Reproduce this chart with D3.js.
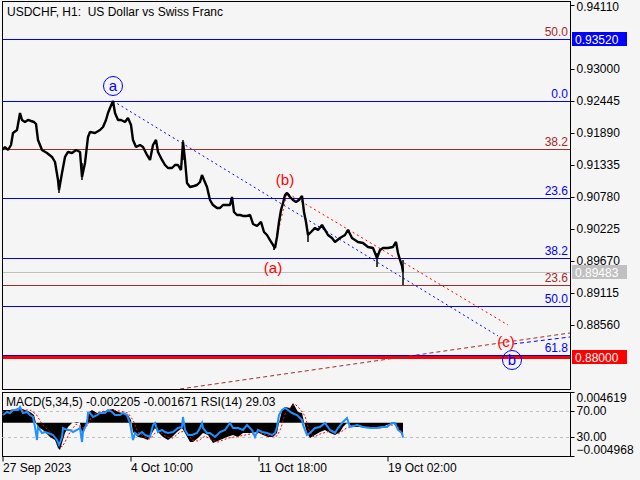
<!DOCTYPE html>
<html><head><meta charset="utf-8">
<script src="https://cdn.jsdelivr.net/npm/d3@7"></script>
<style>
html,body{margin:0;padding:0;background:#F5F5F5;}
svg{display:block;font-family:"Liberation Sans",Arial,sans-serif;}
</style></head><body><svg id="c" width="640" height="480"></svg>
<script>
// ---------------- DATA ----------------
const chartTitle = "USDCHF, H1:  US Dollar vs Swiss Franc";
const indicatorTitle = "MACD(5,34,5) -0.002205 -0.001671 RSI(14) 29.03";
const priceBars = [0,3,6,9,11,15,18,20,23,26,29,32,34,36,40,45,50,53,56,57,60,63,66,70,74,78,80,83,86,88,93,98,101,104,106,108,111,113,116,119,123,126,129,131,134,138,141,145,148,151,154,156,160,163,166,170,173,176,179,181,183,185,188,192,195,198,200,202,205,208,211,215,218,221,225,228,230,232,235,238,241,245,248,251,255,259,262,265,268,271,273,275,277,279,281,283,285,288,291,294,297,300,302,304,306,309,313,316,320,323,326,330,333,338,343,346,350,353,356,361,366,371,375,378,381,386,391,394,396,398,400,401];
const closePrices = [0.91595,0.91647,0.91595,0.91682,0.91890,0.91942,0.92237,0.92116,0.92081,0.92116,0.92098,0.92081,0.92046,0.91769,0.91595,0.91543,0.91474,0.91387,0.91075,0.90902,0.91196,0.91474,0.91561,0.91543,0.91595,0.91561,0.91127,0.91370,0.91821,0.91907,0.91890,0.91942,0.91994,0.92116,0.92237,0.92324,0.92445,0.92237,0.92116,0.92116,0.92081,0.92150,0.92029,0.91769,0.91647,0.91682,0.91647,0.91509,0.91422,0.91682,0.91769,0.91561,0.91422,0.91335,0.91283,0.91283,0.91335,0.91335,0.91248,0.91734,0.91422,0.91023,0.90954,0.90971,0.90988,0.91040,0.91162,0.91075,0.90954,0.90728,0.90641,0.90589,0.90589,0.90641,0.90641,0.90641,0.90780,0.90520,0.90468,0.90468,0.90451,0.90451,0.90468,0.90312,0.90277,0.90347,0.90173,0.90121,0.90034,0.89948,0.89896,0.90086,0.90347,0.90555,0.90676,0.90815,0.90850,0.90780,0.90728,0.90693,0.90728,0.90797,0.90520,0.90347,0.90121,0.90173,0.90243,0.90208,0.90295,0.90208,0.90121,0.90069,0.90000,0.90069,0.90121,0.90208,0.90069,0.90034,0.90000,0.89982,0.89913,0.89896,0.89722,0.89861,0.89896,0.89896,0.89913,0.90000,0.89809,0.89688,0.89584,0.89483];
const spikeBars = [57,80,181,272,306,375,401];
const spikeHigh = [0.91075,0.91370,0.91769,0.89948,0.90173,0.89809,0.89688];
const spikeLow  = [0.90850,0.91075,0.91422,0.89861,0.90000,0.89566,0.89254];

const priceTicks = [0.94110,0.93000,0.92445,0.91890,0.91335,0.90780,0.90225,0.89670,0.89115,0.88560];
const timeTickBars = [0,128,256,385];
const timeLabels = ["27 Sep 2023","4 Oct 10:00","11 Oct 18:00","19 Oct 02:00"];

const fibBlueLevels = ["0.0","23.6","38.2","50.0","61.8"];
const fibBluePrices = [0.92445,0.90760,0.89720,0.88890,0.88040];
const fibRedLevels = ["50.0","38.2","23.6"];
const fibRedPrices = [0.93512,0.91612,0.89254];
const targetPrice = 0.93520;
const supportPrice = 0.88000;
const lastPrice = 0.89483;

const waveText   = ["a","(b)","(a)","(c)","b"];
const waveBars   = [111,283,271,504,510];
const wavePrices = [0.92705,0.91075,0.89549,0.88266,0.87953];
const waveCircled = [true,false,false,false,true];
const waveDegree = ["minor","minute","minute","minute","minor"];

// trend / projection lines: [bar, price] pairs
const bluePathBars = [111,496];   const bluePathPrices = [0.92445,0.88370];
const blueExtBars = [511,568];    const blueExtPrices = [0.88231,0.88352];
const redPathBars = [272,285,506]; const redPathPrices = [0.89861,0.90850,0.88560];
const trendBars = [178,568];      const trendPrices = [0.87450,0.88422];

const macdBars = [0,8,18,28,32,34,36,41,48,53,56,58,60,63,66,70,75,78,80,83,85,87,90,95,101,106,111,116,121,126,129,131,136,141,146,150,153,156,161,166,170,175,180,183,188,191,196,201,206,211,218,225,231,236,241,248,255,261,266,271,275,277,280,283,288,291,296,300,302,305,308,313,318,323,328,333,338,341,345,351,358,365,371,378,385,391,396,400,401];
const macdValues = [0.00192,0.00192,0.00222,0.00162,0.00117,-0.00003,-0.00063,-0.00108,-0.00213,-0.00258,-0.00378,-0.00407,-0.00303,-0.00153,-0.00063,-0.00003,0.00012,-0.00003,-0.00153,-0.00063,0.00042,0.00162,0.00192,0.00147,0.00162,0.00192,0.00207,0.00162,0.00147,0.00117,0.00042,-0.00138,-0.00213,-0.00228,-0.00258,-0.00153,-0.00078,-0.00138,-0.00213,-0.00258,-0.00213,-0.00138,-0.00078,-0.00153,-0.00288,-0.00288,-0.00228,-0.00153,-0.00183,-0.00303,-0.00258,-0.00213,-0.00183,-0.00213,-0.00153,-0.00153,-0.00138,-0.00183,-0.00213,-0.00213,-0.00153,-0.00003,0.00192,0.00237,0.00222,0.00297,0.00162,0.00147,0.00012,-0.00153,-0.00228,-0.00183,-0.00138,-0.00108,-0.00153,-0.00183,-0.00138,-0.00063,-0.00003,-0.00063,-0.00063,-0.00078,-0.00063,-0.00078,-0.00033,-0.00003,-0.00078,-0.00183,-0.002205];
const signalBars = [0,13,28,34,40,48,55,60,64,68,74,81,86,90,98,108,118,126,131,136,143,148,153,158,165,171,178,184,190,196,203,210,216,226,238,248,258,268,275,279,283,288,293,298,303,307,312,318,328,336,343,350,363,378,388,395,401];
const signalValues = [0.00162,0.00192,0.00192,0.00132,-0.00018,-0.00138,-0.00258,-0.00363,-0.00258,-0.00138,-0.00018,-0.00078,-0.00033,0.00117,0.00162,0.00192,0.00177,0.00147,0.00042,-0.00138,-0.00213,-0.00243,-0.00153,-0.00138,-0.00213,-0.00228,-0.00138,-0.00123,-0.00258,-0.00273,-0.00198,-0.00258,-0.00288,-0.00228,-0.00198,-0.00168,-0.00153,-0.00198,-0.00198,-0.00078,0.00132,0.00222,0.00282,0.00207,0.00102,-0.00108,-0.00213,-0.00168,-0.00123,-0.00168,-0.00093,-0.00033,-0.00063,-0.00078,-0.00033,-0.00033,-0.001671];
const rsiBars = [1,5,8,11,16,18,21,25,28,31,33,35,36,40,43,46,51,55,57,60,61,65,68,71,75,78,80,81,85,86,88,91,95,98,103,106,110,113,118,121,125,128,131,133,136,140,143,148,151,153,156,160,163,166,171,176,180,181,183,186,190,195,198,200,201,205,208,213,218,223,228,231,236,241,245,250,253,256,260,265,270,273,275,277,280,283,286,290,295,300,301,305,308,313,318,323,328,333,336,341,345,348,355,361,368,375,380,385,390,393,396,400,401];
const rsiValues = [63.8,68.5,66.9,71.5,71.5,76.2,66.9,68.5,63.8,60.8,45.4,25.4,45.4,36.2,37.7,36.2,33.1,25.4,17.7,30.0,43.8,40.8,40.8,37.7,40.8,43.8,22.3,37.7,51.5,66.9,66.9,60.8,63.8,66.9,66.9,71.5,68.5,63.8,63.8,66.9,63.8,51.5,25.4,36.2,33.1,37.7,33.1,30.0,48.5,51.5,37.7,40.8,37.7,36.2,37.7,43.8,45.4,60.8,40.8,33.1,33.1,36.2,43.8,51.5,43.8,36.2,36.2,30.0,37.7,40.8,51.5,43.8,43.8,40.8,48.5,40.8,30.0,40.8,37.7,36.2,33.1,36.2,45.4,63.8,71.5,74.6,71.5,66.9,63.8,56.2,48.5,33.1,36.2,43.8,45.4,51.5,40.8,36.2,43.8,53.1,59.2,45.4,48.5,45.4,43.8,43.8,45.4,45.4,51.5,51.5,40.8,36.2,29.03];
const macdMax = 0.004619, macdMin = -0.004968;
const rsiLevels = [70,30];

// ---------------- DRAW ----------------
const svg = d3.select("#c");
const L = 2, R = 570, T = 1, B = 389, MT = 392, MB = 456;
const BLUE = "#0000FF", BROWN = "#A52A2A", RED = "#FF0000", GREY = "#C0C0C0";
const crisp = v => Math.round(v) + 0.5;

const x = d3.scaleLinear().domain([0, 385]).range([2, 387]);
const y = d3.scaleLinear().domain([0.88560, 0.94110]).range([325, 5]);
const my = d3.scaleLinear().domain([macdMin, macdMax]).range([MB, MT]);
const ry = d3.scaleLinear().domain([0, 100]).range([456.5, 391.5]);

svg.append("rect").attr("width",640).attr("height",480).attr("fill","#F5F5F5");

const defs = svg.append("defs");
defs.append("clipPath").attr("id","mainClip").append("rect").attr("x",L).attr("y",T).attr("width",R-L).attr("height",B-T);
defs.append("clipPath").attr("id","subClip").append("rect").attr("x",L).attr("y",MT).attr("width",R-L).attr("height",MB-MT);

const main = svg.append("g").attr("clip-path","url(#mainClip)");

function hline(g, price, color, w) {
  const yy = crisp(y(price));
  g.append("line").attr("x1",L).attr("x2",R).attr("y1",yy).attr("y2",yy)
    .attr("stroke",color).attr("stroke-width",w||1).attr("shape-rendering","crispEdges");
}
// fib lines
fibRedPrices.forEach(p => hline(main, p, BROWN));
fibBluePrices.forEach(p => hline(main, p, BLUE));
hline(main, targetPrice, BLUE);
hline(main, lastPrice, GREY);
{
  const yy = y(supportPrice);
  main.append("rect").attr("x",L).attr("width",R-L).attr("y",Math.round(yy)-1).attr("height",3).attr("fill",RED);
}

// fib labels
fibBlueLevels.forEach((t,i) => main.append("text").attr("x",568).attr("y",Math.round(y(fibBluePrices[i]))-3)
  .attr("text-anchor","end").attr("font-size",12).attr("fill",BLUE).text(t));
fibRedLevels.forEach((t,i) => main.append("text").attr("x",568).attr("y",Math.round(y(fibRedPrices[i]))-3)
  .attr("text-anchor","end").attr("font-size",12).attr("fill",BROWN).text(t));

// projection lines
const pline = d3.line().x(d => x(d[0])).y(d => y(d[1]));
main.append("path").attr("d", pline(trendBars.map((b,i)=>[b,trendPrices[i]])))
  .attr("fill","none").attr("stroke",BROWN).attr("stroke-width",1).attr("stroke-dasharray","4,3");
main.append("path").attr("d", pline(bluePathBars.map((b,i)=>[b,bluePathPrices[i]])))
  .attr("fill","none").attr("stroke",BLUE).attr("stroke-width",1).attr("stroke-dasharray","2,3");
main.append("path").attr("d", pline(blueExtBars.map((b,i)=>[b,blueExtPrices[i]])))
  .attr("fill","none").attr("stroke",BLUE).attr("stroke-width",1).attr("stroke-dasharray","4,3");
main.append("path").attr("d", pline(redPathBars.map((b,i)=>[b,redPathPrices[i]])))
  .attr("fill","none").attr("stroke",RED).attr("stroke-width",1).attr("stroke-dasharray","2,3");

// price
main.append("path").attr("d", pline(priceBars.map((b,i)=>[b,closePrices[i]])))
  .attr("fill","none").attr("stroke","#000").attr("stroke-width",2.4).attr("stroke-linejoin","bevel");
spikeBars.forEach((b,i) => main.append("line").attr("x1",x(b)).attr("x2",x(b))
  .attr("y1",y(spikeHigh[i])).attr("y2",y(spikeLow[i])).attr("stroke","#000").attr("stroke-width",1.5));

// wave labels
waveText.forEach((t,i) => {
  const cx = x(waveBars[i]), cy = y(wavePrices[i]);
  const col = waveDegree[i] === "minor" ? BLUE : RED;
  if (waveCircled[i]) {
    svg.append("circle").attr("cx",cx).attr("cy",cy).attr("r",9.5).attr("fill","none").attr("stroke",col).attr("stroke-width",1);
  }
  svg.append("text").attr("x",cx).attr("y",cy+5).attr("text-anchor","middle").attr("font-size",15)
    .attr("fill",col).text(t);
});

// frames
svg.append("rect").attr("x",L+0.5).attr("y",T+0.5).attr("width",R-L).attr("height",B-T).attr("fill","none").attr("stroke","#000");
svg.append("rect").attr("x",L+0.5).attr("y",MT+0.5).attr("width",R-L).attr("height",MB-MT).attr("fill","none").attr("stroke","#000");

// price axis
const ya = svg.append("g").attr("transform",`translate(${R+0.5},0)`)
  .call(d3.axisRight(y).tickValues(priceTicks).tickFormat(d3.format(".5f")).tickSize(4).tickPadding(2));
ya.select(".domain").remove();
ya.selectAll("text").attr("font-size",12).attr("font-family","Liberation Sans, Arial, sans-serif").attr("fill","#000")
  .attr("dy", d => d === priceTicks[0] ? "0.45em" : "0.32em");
ya.selectAll("line").attr("stroke","#000");

function tag(price, bg) {
  const yy = Math.round(y(price));
  svg.append("rect").attr("x",572).attr("y",yy-7).attr("width",55).attr("height",14).attr("fill",bg);
  svg.append("text").attr("x",575).attr("y",yy+4.5).attr("font-size",12).attr("fill","#fff").text(d3.format(".5f")(price));
}
tag(targetPrice, BLUE);
tag(lastPrice, GREY);
tag(supportPrice, RED);

// title
svg.append("text").attr("x",7).attr("y",16).attr("font-size",12).attr("fill","#000")
  .attr("xml:space","preserve").style("white-space","pre").text(chartTitle);

// ---------------- SUB WINDOW ----------------
const sub = svg.append("g").attr("clip-path","url(#subClip)");
rsiLevels.forEach(v => sub.append("line").attr("x1",L).attr("x2",R).attr("y1",crisp(ry(v))).attr("y2",crisp(ry(v)))
  .attr("stroke",GREY).attr("stroke-dasharray","3,3").attr("shape-rendering","crispEdges"));
const area = d3.area().x(d=>x(d[0])).y0(my(0)).y1(d=>my(d[1]));
sub.append("path").attr("d", area(macdBars.map((b,i)=>[b,macdValues[i]]))).attr("fill","#000");
const sline = d3.line().x(d=>x(d[0])).y(d=>my(d[1]));
sub.append("path").attr("d", sline(signalBars.map((b,i)=>[b,signalValues[i]])))
  .attr("fill","none").attr("stroke",RED).attr("stroke-width",1).attr("stroke-dasharray","2,2");
const rline = d3.line().x(d=>x(d[0])).y(d=>ry(d[1]));
sub.append("path").attr("d", rline(rsiBars.map((b,i)=>[b,rsiValues[i]])))
  .attr("fill","none").attr("stroke","#1E90FF").attr("stroke-width",2);

svg.append("text").attr("x",6).attr("y",406).attr("font-size",12).attr("fill","#000").text(indicatorTitle);

// sub axis
const sa = svg.append("g").attr("transform",`translate(${R+0.5},0)`);
sa.append("g").call(d3.axisRight(ry).tickValues(rsiLevels).tickFormat(d3.format(".2f")).tickSize(4).tickPadding(2))
  .call(g=>g.select(".domain").remove())
  .call(g=>g.selectAll("text").attr("font-size",12).attr("font-family","Liberation Sans, Arial, sans-serif"));
[[MT, macdMax, 6],[MB, macdMin, -6]].forEach(([py,v,dy]) => {
  sa.append("line").attr("x1",0).attr("x2",4).attr("y1",py+0.5).attr("y2",py+0.5).attr("stroke","#000");
  sa.append("text").attr("x",6).attr("y",py+dy).attr("dy","0.32em").attr("font-size",12).text(d3.format(".6f")(v));
});

// time axis
const xa = svg.append("g").attr("transform",`translate(0.5,${MB+0.5})`)
  .call(d3.axisBottom(x).tickValues(timeTickBars).tickFormat((d,i)=>timeLabels[i]).tickSize(5).tickPadding(2));
xa.select(".domain").remove();
xa.selectAll("text").attr("text-anchor","start").attr("font-size",12).attr("font-family","Liberation Sans, Arial, sans-serif").attr("dx",0);
</script></body></html>
